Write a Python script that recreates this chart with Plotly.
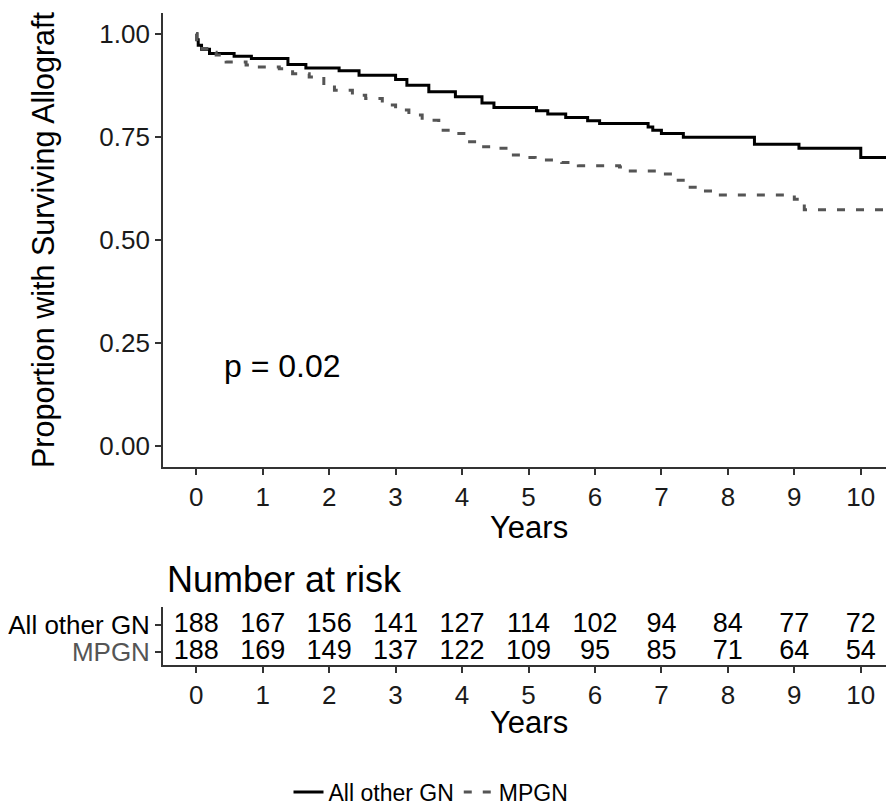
import plotly.graph_objects as go

# ---------------- data ----------------
groups = ["All other GN", "MPGN"]

times_other = [0, 0.01, 0.03, 0.08, 0.2, 0.57, 0.83, 1.38, 1.65, 2.15, 2.45, 3.0, 3.17, 3.5,
               3.9, 4.3, 4.48, 5.12, 5.29, 5.56, 5.89, 6.07, 6.8, 6.87, 7.0, 7.33, 8.4, 9.07,
               10.0, 10.45]
surv_other = [1.0, 0.985, 0.972, 0.962, 0.952, 0.945, 0.940, 0.925, 0.917, 0.910, 0.899, 0.889,
              0.875, 0.859, 0.847, 0.832, 0.821, 0.813, 0.805, 0.797, 0.789, 0.782, 0.774, 0.766,
              0.758, 0.749, 0.732, 0.722, 0.700, 0.700]

times_mpgn = [0, 0.01, 0.04, 0.2, 0.3, 0.45, 0.75, 0.95, 1.25, 1.45, 1.7, 1.92, 2.08, 2.35, 2.55,
              2.8, 3.0, 3.2, 3.4, 3.65, 3.85, 4.08, 4.27, 4.5, 4.7, 4.95, 5.1, 5.5, 5.75, 6.37,
              6.5, 7.0, 7.2, 7.4, 7.6, 7.8, 9.0, 9.15, 10.45]
surv_mpgn = [1.0, 0.98, 0.964, 0.955, 0.948, 0.931, 0.924, 0.919, 0.915, 0.903, 0.895, 0.875,
             0.863, 0.851, 0.843, 0.827, 0.815, 0.803, 0.790, 0.766, 0.758, 0.738, 0.726, 0.722,
             0.706, 0.700, 0.694, 0.688, 0.680, 0.677, 0.667, 0.660, 0.645, 0.628, 0.619, 0.609,
             0.599, 0.573, 0.571]

risk_times = [0, 1, 2, 3, 4, 5, 6, 7, 8, 9, 10]
risk_other = [188, 167, 156, 141, 127, 114, 102, 94, 84, 77, 72]
risk_mpgn = [188, 169, 149, 137, 122, 109, 95, 85, 71, 64, 54]

y_ticks = [0, 0.25, 0.5, 0.75, 1.0]
y_ticklabels = ["0.00", "0.25", "0.50", "0.75", "1.00"]
p_text = "p = 0.02"

# ---------------- style ----------------
FONT = "Liberation Sans, Arial, Helvetica, sans-serif"
COL_OTHER = "#000000"
COL_MPGN = "#555555"
AX_COL = "#333333"

OFF = 8  # default page body margin
W, H = 894 - OFF, 805 - OFF
ML, MR, MT, MB = 163 - OFF, 0, 13 - OFF, 140
plot_w = W - ML - MR
plot_h = H - MT - MB


def fy(pix):
    # pix: vertical pixel position in the target page
    return (H - MB - (pix - OFF)) / plot_h


def fx(pix):
    return (pix - OFF - ML) / plot_w


top_dom = [fy(467), 1.0]
tab_dom = [0.0, fy(607)]

fig = go.Figure()

fig.add_trace(go.Scatter(x=times_other, y=surv_other, mode="lines", name=groups[0],
                         line=dict(color=COL_OTHER, width=3, shape="hv"),
                         xaxis="x", yaxis="y"))
fig.add_trace(go.Scatter(x=times_mpgn, y=surv_mpgn, mode="lines", name=groups[1],
                         line=dict(color=COL_MPGN, width=3, shape="hv", dash="8px,11px"),
                         xaxis="x", yaxis="y"))

# risk table numbers
fig.add_trace(go.Scatter(x=risk_times, y=[2] * len(risk_times), mode="text",
                         text=[str(v) for v in risk_other], showlegend=False,
                         textfont=dict(family=FONT, size=27, color="#000000"),
                         xaxis="x2", yaxis="y2", hoverinfo="skip"))
fig.add_trace(go.Scatter(x=risk_times, y=[1] * len(risk_times), mode="text",
                         text=[str(v) for v in risk_mpgn], showlegend=False,
                         textfont=dict(family=FONT, size=27, color="#000000"),
                         xaxis="x2", yaxis="y2", hoverinfo="skip"))

axis_common = dict(showline=True, linecolor=AX_COL, linewidth=1.8, ticks="outside",
                   ticklen=6, tickwidth=1.8, tickcolor=AX_COL, showgrid=False,
                   zeroline=False, automargin=False,
                   tickfont=dict(family=FONT, size=26, color="#1a1a1a"))

fig.update_layout(
    width=W, height=H,
    margin=dict(l=ML, r=MR, t=MT, b=MB, pad=0, autoexpand=False),
    paper_bgcolor="white", plot_bgcolor="white",
    font=dict(family=FONT, color="#000000"),
    xaxis=dict(domain=[0, 1], range=[-0.5, 10.5], tickvals=risk_times, anchor="y",
               **axis_common),
    yaxis=dict(domain=top_dom, range=[-0.05, 1.05], tickvals=y_ticks,
               ticktext=y_ticklabels, anchor="x", **axis_common),
    xaxis2=dict(domain=[0, 1], range=[-0.5, 10.5], tickvals=risk_times, anchor="y2",
                **axis_common),
    yaxis2=dict(domain=tab_dom, range=[0.52, 2.67], tickvals=[1, 2],
                ticktext=['<span style="color:%s">%s</span>' % (COL_MPGN, groups[1]),
                          groups[0]],
                anchor="x2", **{**axis_common,
                                "tickfont": dict(family=FONT, size=26, color="#000000")}),
    showlegend=True,
    legend=dict(orientation="h", x=fx(431), xanchor="center", y=fy(792), yanchor="middle",
                font=dict(family=FONT, size=23, color="#000000"), bgcolor="rgba(0,0,0,0)",
                itemwidth=30),
)

annotations = [
    dict(text="Proportion with Surviving Allograft", xref="paper", yref="paper",
         x=0, y=(top_dom[0] + top_dom[1]) / 2, xanchor="center", yanchor="middle",
         xshift=-120, textangle=-90, showarrow=False,
         font=dict(family=FONT, size=30.5, color="#000000")),
    dict(text="Years", xref="paper", yref="paper", x=0.5, y=fy(527), xanchor="center",
         yanchor="middle", showarrow=False, font=dict(family=FONT, size=31, color="#000000")),
    dict(text="Years", xref="paper", yref="paper", x=0.5, y=fy(722), xanchor="center",
         yanchor="middle", showarrow=False, font=dict(family=FONT, size=31, color="#000000")),
    dict(text="Number at risk", xref="paper", yref="paper", x=fx(165), y=fy(579),
         xanchor="left", yanchor="middle", showarrow=False,
         font=dict(family=FONT, size=36, color="#000000")),
    dict(text=p_text, xref="x", yref="y", x=1.3, y=0.195, xanchor="center", yanchor="middle",
         showarrow=False, font=dict(family=FONT, size=32, color="#000000")),
]
fig.update_layout(annotations=annotations)

fig.write_html("out.html")
